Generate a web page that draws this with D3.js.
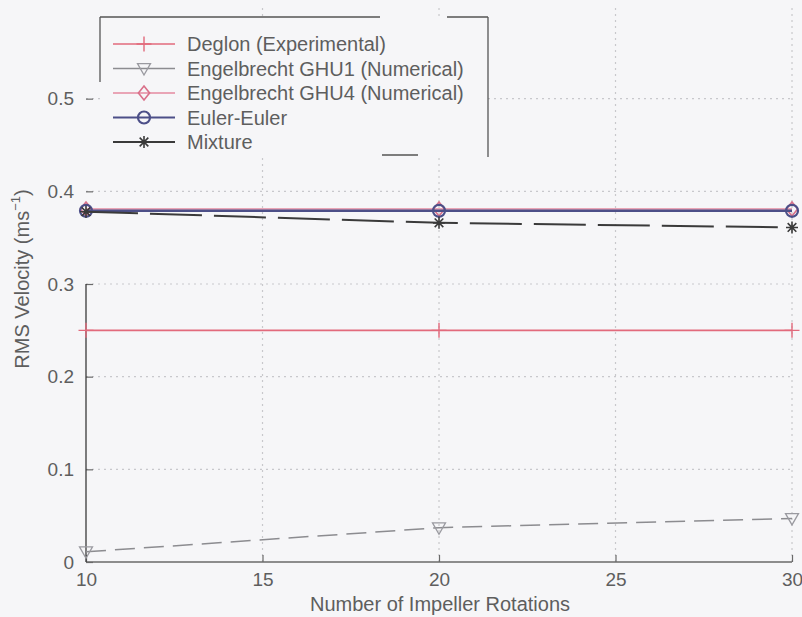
<!DOCTYPE html>
<html>
<head>
<meta charset="utf-8">
<script src="https://cdn.jsdelivr.net/npm/d3@7"></script>
<style>
  body { margin: 0; background: #f6f6f8; }
  svg { display: block; font-family: "Liberation Sans", Arial, Helvetica, sans-serif; }
</style>
</head>
<body>
<svg id="chart" width="802" height="617"></svg>
<script>
// Number of impeller rotations and RMS velocity (m/s) for each source
const rotations = [10, 20, 30];
const deglon = [0.25, 0.25, 0.25];
const ghu1 = [0.011, 0.037, 0.047];
const ghu4 = [0.381, 0.381, 0.381];
const eulerEuler = [0.379, 0.379, 0.379];
const mixture = [0.378, 0.366, 0.361];

const seriesNames = [
  "Deglon (Experimental)",
  "Engelbrecht GHU1 (Numerical)",
  "Engelbrecht GHU4 (Numerical)",
  "Euler-Euler",
  "Mixture"
];
const xTicks = [10, 15, 20, 25, 30];
const yTicks = [0, 0.1, 0.2, 0.3, 0.4, 0.5];
const xTickLabels = ["10", "15", "20", "25", "30"];
const yTickLabels = ["0", "0.1", "0.2", "0.3", "0.4", "0.5"];

const svg = d3.select("#chart");
const W = 802, H = 617;
const plot = { left: 86, right: 792, top: 6, bottom: 562 };

const x = d3.scaleLinear().domain([10, 30]).range([plot.left, plot.right]);
const y = d3.scaleLinear().domain([0, 0.6]).range([plot.bottom, plot.top]);

svg.append("rect").attr("width", W).attr("height", H).attr("fill", "#f6f6f8");

const textColor = "#5e5e5e";
const axisColor = "#6a6a6a";

// Dotted grid
const grid = svg.append("g").attr("stroke", "#c8c8cc").attr("stroke-width", 1.2)
  .attr("stroke-dasharray", "2,4");
yTicks.filter(v => v > 0).forEach(v => {
  grid.append("line").attr("x1", plot.left).attr("x2", plot.right)
    .attr("y1", y(v)).attr("y2", y(v));
});
xTicks.filter(v => v > 10).forEach(v => {
  grid.append("line").attr("x1", x(v)).attr("x2", x(v))
    .attr("y1", plot.bottom).attr("y2", plot.top);
});

// Axes built with d3 axis generators, ticks pointing inward
const xAxis = d3.axisBottom(x).tickValues(xTicks)
  .tickFormat((d, i) => xTickLabels[i]).tickSizeInner(-7).tickSizeOuter(0).tickPadding(14);
const yAxis = d3.axisLeft(y).tickValues(yTicks)
  .tickFormat((d, i) => yTickLabels[i]).tickSizeInner(-7).tickSizeOuter(0).tickPadding(12);

const gx = svg.append("g").attr("transform", `translate(0,${plot.bottom})`).call(xAxis);
const gy = svg.append("g").attr("transform", `translate(${plot.left},0)`).call(yAxis);
[gx, gy].forEach(g => {
  g.select(".domain").remove();
  g.selectAll(".tick line").attr("stroke", axisColor).attr("stroke-width", 1.2);
  g.selectAll(".tick text").attr("fill", textColor).attr("font-size", 19)
    .attr("font-family", "Liberation Sans, Arial, sans-serif");
});
gx.selectAll(".tick text").attr("dy", "0.55em");
// visible axis lines
svg.append("line").attr("x1", plot.left).attr("x2", plot.right)
  .attr("y1", plot.bottom).attr("y2", plot.bottom)
  .attr("stroke", axisColor).attr("stroke-width", 1.3);
svg.append("line").attr("x1", plot.left).attr("x2", plot.left)
  .attr("y1", plot.bottom).attr("y2", y(0.3))
  .attr("stroke", "#3a3a3a").attr("stroke-width", 1.3);

// Marker shapes
const markers = {
  plus: s => `M${-s},0H${s}M0,${-s}V${s}`,
  triangleDown: s => `M${-s},${-s * 0.75}L${s},${-s * 0.75}L0,${s}Z`,
  diamond: s => `M0,${-s}L${s * 0.8},0L0,${s}L${-s * 0.8},0Z`,
  circle: s => d3.arc()({ innerRadius: 0, outerRadius: s, startAngle: 0, endAngle: 2 * Math.PI }),
  asterisk: s => {
    const d = s * 0.72;
    return `M${-s},0H${s}M0,${-s}V${s}M${-d},${-d}L${d},${d}M${-d},${d}L${d},${-d}`;
  }
};

const series = [
  { name: seriesNames[0], values: deglon, color: "#e26a7c", width: 1.6, dash: null, marker: "plus", size: 7.5, mw: 1.4 },
  { name: seriesNames[1], values: ghu1, color: "#8c8c90", width: 1.5, dash: "20,9", marker: "triangleDown", size: 6.5, mw: 1.3, mcolor: "#9a9aa0" },
  { name: seriesNames[2], values: ghu4, color: "#e48aa0", width: 1.6, dash: null, marker: "diamond", size: 7, mw: 1.6, mcolor: "#d9708a" },
  { name: seriesNames[3], values: eulerEuler, color: "#4c4f88", width: 2.4, dash: null, marker: "circle", size: 6, mw: 2.2 },
  { name: seriesNames[4], values: mixture, color: "#3a3a3a", width: 2.0, dash: "52,12", marker: "asterisk", size: 6, mw: 1.6 }
];

const line = d3.line().x((d, i) => x(rotations[i])).y(d => y(d));

series.forEach(s => {
  const g = svg.append("g");
  g.append("path").attr("d", line(s.values)).attr("fill", "none")
    .attr("stroke", s.color).attr("stroke-width", s.width)
    .attr("stroke-dasharray", s.dash);
  g.selectAll("path.m").data(s.values).enter().append("path").attr("class", "m")
    .attr("transform", (d, i) => `translate(${x(rotations[i])},${y(d)})`)
    .attr("d", markers[s.marker](s.size))
    .attr("fill", "none").attr("stroke", s.mcolor || s.color).attr("stroke-width", s.mw);
});

// Legend
const leg = { x0: 100, y0: 17, x1: 488, y1: 157 };
svg.append("rect").attr("x", leg.x0).attr("y", leg.y0)
  .attr("width", leg.x1 - leg.x0).attr("height", leg.y1 - leg.y0)
  .attr("fill", "#f6f6f8");
const legEdge = svg.append("g").attr("stroke", "#555").attr("stroke-width", 1.3);
legEdge.append("line").attr("x1", leg.x0).attr("x2", 380).attr("y1", leg.y0).attr("y2", leg.y0);
legEdge.append("line").attr("x1", 447).attr("x2", leg.x1).attr("y1", leg.y0).attr("y2", leg.y0);
legEdge.append("line").attr("x1", leg.x1).attr("x2", leg.x1).attr("y1", leg.y0).attr("y2", leg.y1);
legEdge.append("line").attr("x1", leg.x0).attr("x2", leg.x0).attr("y1", leg.y0).attr("y2", 82);
legEdge.append("line").attr("x1", 382).attr("x2", 418).attr("y1", 155).attr("y2", 155);

const rowY = d3.scaleLinear().domain([0, 4]).range([44, 142]);
series.forEach((s, i) => {
  const ry = rowY(i);
  svg.append("line").attr("x1", 113).attr("x2", 175).attr("y1", ry).attr("y2", ry)
    .attr("stroke", s.color).attr("stroke-width", Math.min(s.width, 1.8));
  svg.append("path").attr("transform", `translate(144,${ry})`)
    .attr("d", markers[s.marker](s.size))
    .attr("fill", "none").attr("stroke", s.mcolor || s.color).attr("stroke-width", s.mw);
  svg.append("text").attr("x", 187).attr("y", ry).attr("dy", "0.36em")
    .attr("font-size", 20).attr("fill", textColor).text(s.name);
});

// Axis titles
svg.append("text").attr("x", (plot.left + plot.right) / 2 + 1).attr("y", 604)
  .attr("text-anchor", "middle").attr("dy", "0.36em")
  .attr("font-size", 20).attr("fill", textColor).text("Number of Impeller Rotations");

const yl = svg.append("text").attr("transform", "translate(22,279) rotate(-90)")
  .attr("text-anchor", "middle").attr("dy", "0.36em")
  .attr("font-size", 20).attr("fill", textColor);
yl.append("tspan").text("RMS Velocity (ms");
yl.append("tspan").attr("font-size", 13).attr("dy", "-0.7em").text("−1");
yl.append("tspan").attr("dy", "0.45em").text(")");
</script>
</body>
</html>
